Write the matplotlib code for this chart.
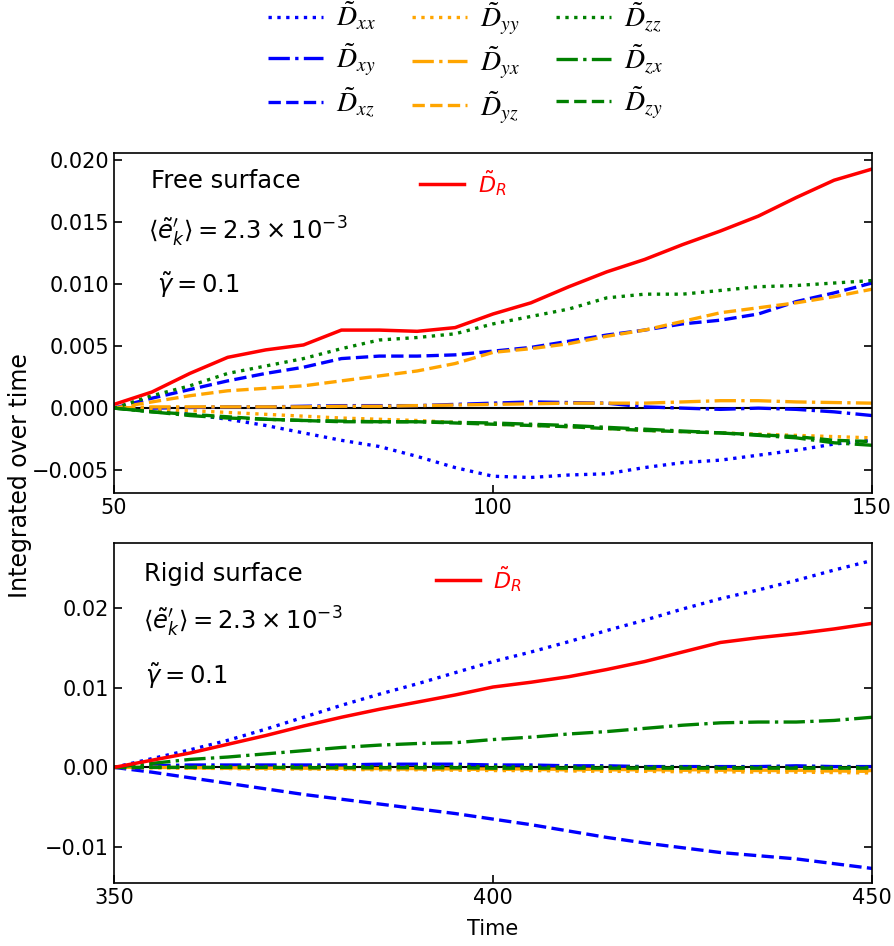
import numpy as np
import matplotlib
matplotlib.use('Agg')
import matplotlib.pyplot as plt
from matplotlib.font_manager import FontProperties

# Free surface, t = 50..150 (values in 1e-3)
t_free = [50, 55, 60, 65, 70, 75, 80, 85, 90, 95, 100, 105, 110, 115, 120, 125, 130, 135, 140, 145, 150]
free_R = [0.3, 1.3, 2.8, 4.1, 4.7, 5.1, 6.3, 6.3, 6.2, 6.5, 7.6, 8.5, 9.8, 11.0, 12.0, 13.2, 14.3, 15.5, 17.0, 18.4, 19.3]
free_xx = [0, -0.2, -0.5, -0.9, -1.4, -2.0, -2.6, -3.1, -3.9, -4.8, -5.5, -5.6, -5.4, -5.3, -4.8, -4.4, -4.2, -3.8, -3.4, -2.9, -2.6]
free_xy = [0, 0.0, 0.05, 0.1, 0.1, 0.15, 0.2, 0.2, 0.2, 0.3, 0.4, 0.5, 0.45, 0.4, 0.1, 0.0, -0.1, 0.0, -0.1, -0.3, -0.6]
free_xz = [0, 0.8, 1.5, 2.2, 2.8, 3.3, 4.0, 4.2, 4.2, 4.3, 4.6, 4.9, 5.4, 5.9, 6.3, 6.8, 7.1, 7.6, 8.6, 9.3, 10.1]
free_yy = [0, -0.1, -0.2, -0.35, -0.5, -0.65, -0.8, -0.9, -1.0, -1.15, -1.3, -1.4, -1.5, -1.65, -1.8, -1.9, -2.0, -2.1, -2.2, -2.3, -2.4]
free_yx = [0, 0.1, 0.1, 0.1, 0.1, 0.1, 0.15, 0.15, 0.2, 0.25, 0.3, 0.35, 0.4, 0.4, 0.4, 0.5, 0.6, 0.6, 0.5, 0.45, 0.4]
free_yz = [0, 0.5, 1.0, 1.4, 1.6, 1.8, 2.2, 2.6, 3.0, 3.6, 4.5, 4.8, 5.2, 5.8, 6.3, 7.0, 7.7, 8.1, 8.5, 9.0, 9.6]
free_zz = [0, 1.0, 1.8, 2.8, 3.4, 4.0, 4.8, 5.5, 5.7, 6.0, 6.8, 7.4, 8.0, 8.9, 9.2, 9.2, 9.5, 9.8, 9.9, 10.1, 10.3]
free_zx = [0, -0.3, -0.6, -0.8, -0.9, -1.0, -1.05, -1.1, -1.1, -1.15, -1.2, -1.3, -1.4, -1.55, -1.7, -1.85, -2.0, -2.2, -2.4, -2.8, -3.0]
free_zy = [0, -0.3, -0.5, -0.7, -0.9, -1.0, -1.1, -1.1, -1.1, -1.2, -1.3, -1.4, -1.5, -1.65, -1.8, -1.9, -2.0, -2.15, -2.3, -2.6, -2.7]

# Rigid surface, t = 350..450 (values in 1e-3)
t_rigid = [350, 355, 360, 365, 370, 375, 380, 385, 390, 395, 400, 405, 410, 415, 420, 425, 430, 435, 440, 445, 450]
rigid_R = [0, 0.9, 1.8, 2.9, 4.0, 5.2, 6.3, 7.3, 8.2, 9.1, 10.1, 10.7, 11.4, 12.3, 13.3, 14.5, 15.7, 16.3, 16.8, 17.4, 18.1]
rigid_xx = [0, 1.1, 2.2, 3.4, 4.8, 6.3, 7.8, 9.2, 10.5, 11.9, 13.3, 14.5, 15.8, 17.2, 18.5, 19.9, 21.2, 22.3, 23.5, 24.8, 26.0]
rigid_xy = [0, 0.2, 0.3, 0.3, 0.3, 0.3, 0.3, 0.4, 0.4, 0.4, 0.3, 0.3, 0.2, 0.2, 0.1, 0.1, 0.1, 0.1, 0.2, 0.1, 0.1]
rigid_xz = [0, -0.6, -1.3, -2.0, -2.7, -3.4, -4.0, -4.6, -5.2, -5.8, -6.5, -7.2, -8.0, -8.8, -9.5, -10.1, -10.7, -11.1, -11.5, -12.1, -12.7]
rigid_yy = [0, -0.05, -0.1, -0.15, -0.2, -0.2, -0.25, -0.3, -0.3, -0.35, -0.4, -0.4, -0.45, -0.5, -0.5, -0.55, -0.55, -0.6, -0.6, -0.65, -0.7]
rigid_yx = [0, 0.0, -0.05, -0.05, -0.1, -0.1, -0.1, -0.15, -0.15, -0.2, -0.2, -0.2, -0.25, -0.25, -0.3, -0.3, -0.3, -0.35, -0.35, -0.4, -0.4]
rigid_yz = [0, 0.0, -0.05, -0.1, -0.1, -0.15, -0.15, -0.2, -0.2, -0.2, -0.25, -0.25, -0.3, -0.3, -0.3, -0.35, -0.35, -0.4, -0.4, -0.45, -0.5]
rigid_zz = [0, 0.05, 0.05, 0.1, 0.1, 0.1, 0.1, 0.1, 0.1, 0.1, 0.1, 0.05, 0.05, 0.05, 0.05, 0.05, 0.0, 0.0, 0.0, 0.0, 0.0]
rigid_zx = [0, 0.5, 1.0, 1.3, 1.7, 2.1, 2.5, 2.8, 3.0, 3.1, 3.5, 3.8, 4.2, 4.5, 4.9, 5.3, 5.6, 5.7, 5.7, 5.9, 6.3]
rigid_zy = [0, 0.0, 0.0, 0.0, 0.0, -0.05, -0.05, -0.05, -0.05, -0.05, -0.1, -0.1, -0.1, -0.1, -0.1, -0.1, -0.1, -0.1, -0.1, -0.1, -0.1]

labels = [r'$\tilde{D}_{xx}$', r'$\tilde{D}_{xy}$', r'$\tilde{D}_{xz}$',
          r'$\tilde{D}_{yy}$', r'$\tilde{D}_{yx}$', r'$\tilde{D}_{yz}$',
          r'$\tilde{D}_{zz}$', r'$\tilde{D}_{zx}$', r'$\tilde{D}_{zy}$']
colors = ['blue'] * 3 + ['orange'] * 3 + ['green'] * 3
styles = [':', '-.', '--'] * 3

free_series = [free_xx, free_xy, free_xz, free_yy, free_yx, free_yz, free_zz, free_zx, free_zy]
rigid_series = [rigid_xx, rigid_xy, rigid_xz, rigid_yy, rigid_yx, rigid_yz, rigid_zz, rigid_zx, rigid_zy]

fig = plt.figure(figsize=(8.95, 9.46), dpi=100)
ax1 = fig.add_axes([0.1274, 0.4789, 0.8469, 0.3594])
ax2 = fig.add_axes([0.1274, 0.0666, 0.8469, 0.3594])

panels = [(ax1, t_free, free_series, free_R, 'Free surface', (50, 150), (-0.00685, 0.0206),
           [0.049, 0.045, 0.057], [0.918, 0.768, 0.612], (0.377, 0.912)),
          (ax2, t_rigid, rigid_series, rigid_R, 'Rigid surface', (350, 450), (-0.01453, 0.0282),
           [0.040, 0.038, 0.041], [0.909, 0.768, 0.609], (0.398, 0.894))]

handles = []
for ax, t, series, R, title, xl, yl, tx, ty, lpos in panels:
    t = np.array(t)
    ax.axhline(0, color='black', lw=1.5, zorder=1)
    hs = []
    for s, lab, c, ls in zip(series, labels, colors, styles):
        h, = ax.plot(t, np.array(s) * 1e-3, color=c, ls=ls, lw=2.4, label=lab)
        hs.append(h)
    handles = hs
    hr, = ax.plot(t, np.array(R) * 1e-3, color='red', lw=2.5)
    ax.legend([hr], [r'$\tilde{D}_R$'], loc='center left', bbox_to_anchor=lpos,
              frameon=False, fontsize=16, labelcolor='red', handlelength=2.0,
              handletextpad=0.6)
    ax.set_xlim(*xl)
    ax.set_ylim(*yl)
    ax.set_xticks([xl[0], (xl[0] + xl[1]) / 2, xl[1]])
    ax.tick_params(direction='in', right=True, labelsize=15, length=6, width=1.2)
    for sp in ax.spines.values():
        sp.set_linewidth(1.2)
    ax.text(tx[0], ty[0], title, transform=ax.transAxes, fontsize=17.5, va='center')
    ax.text(tx[1], ty[1], r'$\langle \tilde{e}^{\prime}_k \rangle = 2.3 \times 10^{-3}$',
            transform=ax.transAxes, fontsize=17.5, va='center')
    ax.text(tx[2], ty[2], r'$\tilde{\gamma} = 0.1$', transform=ax.transAxes, fontsize=17.5, va='center')

ax2.set_xlabel('Time', fontsize=15, labelpad=8)
fig.text(0.022, 0.497, 'Integrated over time', rotation=90, fontsize=17, va='center', ha='center')

fig.legend(handles, labels, loc='upper left', bbox_to_anchor=(0.271, 1.026), ncol=3, frameon=False,
           prop=FontProperties(size=20, math_fontfamily='stix'),
           handlelength=2.0, handletextpad=0.45, columnspacing=1.3, labelspacing=0.30)

fig.savefig('out.png', dpi=100)
